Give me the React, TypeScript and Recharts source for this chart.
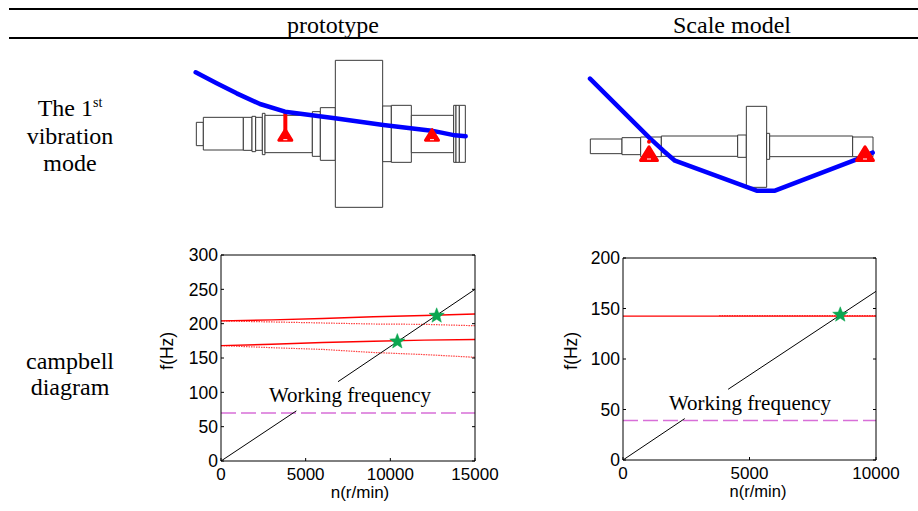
import { ComposedChart, Line, Scatter, XAxis, YAxis, ReferenceArea } from "recharts"

// mode shape schematics, in drawing units (chart is 1/3 of these)
const protoRotor = [
  [139, 367, 160, 437], [160, 352, 280, 450], [280, 352, 306, 451], [306, 349, 317, 455],
  [317, 352, 337, 451], [337, 340, 345, 464], [345, 346, 487, 458], [487, 335, 511, 469],
  [511, 323, 556, 481], [556, 181, 698, 622], [698, 318, 724, 485], [724, 316, 784, 487],
  [784, 346, 911, 458], [911, 316, 918, 487], [918, 316, 928, 487], [928, 316, 946, 487],
]
const protoMode = [
  { x: 137, y: 217 }, { x: 200, y: 250 }, { x: 260, y: 280 }, { x: 330, y: 312 }, { x: 405, y: 335 },
  { x: 555, y: 355 }, { x: 700, y: 375 }, { x: 845, y: 392 }, { x: 915, y: 406 }, { x: 947, y: 409 },
]
const protoStem = [{ x: 406, y: 335 }, { x: 406, y: 395 }]
const protoSupports = [{ x: 406, y: 410 }, { x: 846, y: 410 }]

const modelRotor = [
  [91, 417, 186, 461], [186, 413, 242, 464], [242, 411, 304, 470], [304, 408, 533, 469],
  [533, 405, 559, 472], [559, 319, 620, 562], [620, 400, 629, 478], [629, 408, 878, 470],
  [878, 411, 939, 470],
]
const modelMode = [
  { x: 90, y: 236 }, { x: 270, y: 415 }, { x: 310, y: 452 }, { x: 345, y: 482 },
  { x: 590, y: 572 }, { x: 645, y: 572 }, { x: 890, y: 478 }, { x: 938, y: 458 },
]
const modelSupports = [{ x: 267, y: 468 }, { x: 915, y: 468 }]
const modelDot = [{ x: 267, y: 425 }]

// campbell, prototype
const protoTicksX = [0, 5000, 10000, 15000]
const protoTicksY = [0, 50, 100, 150, 200, 250, 300]
const protoWhirl = [{ x: 0, y: 0 }, { x: 4450, y: 73 }, { x: 5500, y: null }, { x: 6910, y: 115.5 }, { x: 15000, y: 250 }]
const protoWorking = [{ x: 0, y: 70 }, { x: 15000, y: 70 }]
const protoForward = [
  [{ x: 0, y: 204 }, { x: 3000, y: 205.5 }, { x: 6000, y: 207.5 }, { x: 9000, y: 210 }, { x: 12000, y: 212 }, { x: 15000, y: 214 }],
  [{ x: 0, y: 168 }, { x: 3000, y: 170 }, { x: 6000, y: 172.5 }, { x: 9000, y: 174.5 }, { x: 12000, y: 176 }, { x: 15000, y: 177 }],
]
const protoBackward = [
  [{ x: 0, y: 204 }, { x: 3000, y: 202.5 }, { x: 6000, y: 201 }, { x: 9000, y: 199.5 }, { x: 12000, y: 199 }, { x: 15000, y: 197 }],
  [{ x: 0, y: 168 }, { x: 3000, y: 165 }, { x: 6000, y: 162.5 }, { x: 9000, y: 158 }, { x: 12000, y: 155 }, { x: 15000, y: 151 }],
]
const protoCritical = [{ x: 10413, y: 174 }, { x: 12736, y: 211.5 }]

// campbell, scale model
const modelTicksX = [0, 5000, 10000]
const modelTicksY = [0, 50, 100, 150, 200]
const modelWhirl = [{ x: 0, y: 0 }, { x: 2440, y: 41 }, { x: 3300, y: null }, { x: 4155, y: 70 }, { x: 10000, y: 167 }]
const modelWorking = [{ x: 0, y: 39 }, { x: 10000, y: 39 }]
const modelForward = [[{ x: 0, y: 142.5 }, { x: 10000, y: 142.5 }]]
const modelBackward = [[{ x: 3800, y: 143 }, { x: 10000, y: 143 }]]
const modelCritical = [{ x: 8588, y: 143.8 }]

const SERIF = "'Liberation Serif', 'Times New Roman', serif"
const SANS = "'Liberation Sans', Arial, sans-serif"

const Support = ({ cx, cy, size = 1 }: any) => (
  <g>
    <path d={`M${cx} ${cy - 7 * size} L${cx - 6.5 * size} ${cy + 3.5 * size} L${cx + 6.5 * size} ${cy + 3.5 * size} Z`} fill="#ff0000" stroke="#ff0000" strokeWidth={3} strokeLinejoin="round" />
    <path d={`M${cx - 2} ${cy + 3} H${cx + 2}`} stroke="#fff" strokeWidth={1} />
  </g>
)

const Star = ({ cx, cy }: any) => {
  let pts = ""
  for (let i = 0; i < 10; i++) {
    const r = i % 2 ? 3.4 : 8
    const a = (Math.PI * i) / 5 - Math.PI / 2
    pts += `${cx + r * Math.cos(a)},${cy + r * Math.sin(a)} `
  }
  return <polygon points={pts} fill="#0ca650" stroke="#0ca650" strokeWidth={0.5} />
}

function ModeShape({ left, rotor, mode, stem, supports, dots, size }: any) {
  return (
    <div style={{ position: "absolute", left, top: 0 }}>
      <ComposedChart width={340} height={220} margin={{ top: 0, right: 0, bottom: 0, left: 0 }}>
        <XAxis type="number" dataKey="x" domain={[0, 1020]} hide />
        <YAxis type="number" dataKey="y" domain={[0, 660]} reversed hide />
        {rotor.map((r: number[], i: number) => (
          <ReferenceArea key={i} x1={r[0]} y1={r[1]} x2={r[2]} y2={r[3]} fill="#fff" fillOpacity={1} stroke="#3a3a3a" strokeWidth={1} />
        ))}
        {stem && <Line data={stem} dataKey="y" stroke="#ff0000" strokeWidth={4} dot={false} isAnimationActive={false} />}
        <Scatter data={supports} shape={<Support size={size} />} isAnimationActive={false} />
        {dots && <Scatter data={dots} fill="#ff0000" shape={(p: any) => <circle cx={p.cx} cy={p.cy} r={2} fill="#ff0000" />} isAnimationActive={false} />}
        <Line data={mode} dataKey="y" stroke="#0000ff" strokeWidth={4.5} strokeLinecap="round" strokeLinejoin="round" dot={false} isAnimationActive={false} />
      </ComposedChart>
    </div>
  )
}

function Campbell({ left, plot, maxX, maxY, ticksX, ticksY, whirl, working, forward, backward, critical }: any) {
  const axisProps = { stroke: "#000", tickLine: { stroke: "#000" }, tickSize: -3, interval: 0 as const, allowDataOverflow: true }
  return (
    <div style={{ position: "absolute", left, top: 240 }}>
      <ComposedChart width={330} height={270} margin={{ top: plot.top - 1, right: plot.right - 1, bottom: 0, left: 0 }}>
        <XAxis {...axisProps} xAxisId={0} type="number" dataKey="x" domain={[0, maxX]} ticks={ticksX} height={plot.axisBottom}
          tickMargin={10} tick={{ fill: "#000", fontSize: 17, fontFamily: SANS }} />
        <XAxis {...axisProps} xAxisId={1} orientation="top" type="number" domain={[0, maxX]} ticks={ticksX} height={1} tickFormatter={() => ""} />
        <YAxis {...axisProps} yAxisId={0} type="number" dataKey="y" domain={[0, maxY]} ticks={ticksY} width={plot.axisLeft}
          tickMargin={6} tick={{ fill: "#000", fontSize: 17.5, fontFamily: SANS }} />
        <YAxis {...axisProps} yAxisId={1} orientation="right" type="number" domain={[0, maxY]} ticks={ticksY} width={1} tickFormatter={() => ""} />
        {backward.map((d: any, i: number) => (
          <Line key={`b${i}`} data={d} dataKey="y" stroke="#ff4040" strokeWidth={1.2} strokeDasharray="1.5 1" dot={false} isAnimationActive={false} />
        ))}
        {forward.map((d: any, i: number) => (
          <Line key={`f${i}`} data={d} dataKey="y" stroke="#ff0000" strokeWidth={1.4} dot={false} isAnimationActive={false} />
        ))}
        <Line data={working} dataKey="y" stroke="#d86fd8" strokeWidth={1.5} strokeDasharray="15 5" dot={false} isAnimationActive={false} />
        <Line data={whirl} dataKey="y" stroke="#000" strokeWidth={1} dot={false} isAnimationActive={false} />
        <Scatter data={critical} shape={<Star />} isAnimationActive={false} />
      </ComposedChart>
    </div>
  )
}

const label = (left: number, top: number, text: any, style: any = {}) => (
  <div style={{ position: "absolute", left, top, transform: "translateX(-50%)", whiteSpace: "nowrap", lineHeight: 1, color: "#000", fontFamily: SERIF, fontSize: 24, ...style }}>
    {text}
  </div>
)

export default function App() {
  return (
    <div style={{ position: "absolute", left: 0, top: 0, width: 918, height: 511, background: "#fff", overflow: "hidden" }}>
      <div style={{ position: "absolute", left: 9, top: 8, width: 909, height: 2, background: "#000" }} />
      <div style={{ position: "absolute", left: 9, top: 37, width: 909, height: 2, background: "#000" }} />
      {label(333, 13, "prototype")}
      {label(732, 13, "Scale model")}
      {label(70, 96, <>The 1<sup style={{ fontSize: 14, lineHeight: 0 }}>st</sup></>)}
      {label(70, 124, "vibration")}
      {label(70, 151, "mode")}
      {label(70, 349, "campbell")}
      {label(70, 375, "diagram")}

      <ModeShape left={150} rotor={protoRotor} mode={protoMode} stem={protoStem} supports={protoSupports} size={1} />
      <ModeShape left={560} rotor={modelRotor} mode={modelMode} supports={modelSupports} dots={modelDot} size={1.3} />

      <Campbell left={170} plot={{ top: 15, right: 25, axisLeft: 51, axisBottom: 49 }}
        maxX={15000} maxY={300} ticksX={protoTicksX} ticksY={protoTicksY} whirl={protoWhirl}
        working={protoWorking} forward={protoForward} backward={protoBackward} critical={protoCritical} />
      <Campbell left={570} plot={{ top: 18, right: 24, axisLeft: 53, axisBottom: 50 }}
        maxX={10000} maxY={200} ticksX={modelTicksX} ticksY={modelTicksY} whirl={modelWhirl}
        working={modelWorking} forward={modelForward} backward={modelBackward} critical={modelCritical} />

      {label(350, 385, "Working frequency", { fontSize: 21 })}
      {label(750, 393, "Working frequency", { fontSize: 21 })}
      {label(360, 484, "n(r/min)", { fontFamily: SANS, fontSize: 17 })}
      {label(758, 483, "n(r/min)", { fontFamily: SANS, fontSize: 16.5 })}
      {label(168, 342, "f(Hz)", { fontFamily: SANS, fontSize: 17.5, transform: "translateX(-50%) rotate(-90deg)" })}
      {label(572, 342, "f(Hz)", { fontFamily: SANS, fontSize: 17.5, transform: "translateX(-50%) rotate(-90deg)" })}
    </div>
  )
}
